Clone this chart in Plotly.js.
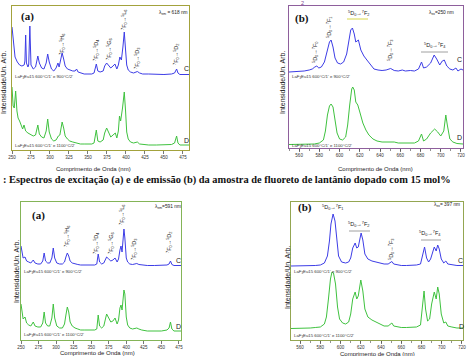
<!DOCTYPE html>
<html><head><meta charset="utf-8">
<script src="https://cdn.plot.ly/plotly-3.0.1.min.js"></script>
<style>html,body{margin:0;padding:0;background:#fff;}#g{width:470px;height:356px;}</style>
</head><body><div id="g"></div>
<script>
// ---- Panel TL: excitation, lambda_em = 618 nm ----
const exA_C_wl = [250,252,254,257,260,263,266,267,268,269,271,272,273.5,275,278,281,284,286,289,292,295,297,299,302,305,308,310.5,312,314,316,318,320,323,326,330,333,335,337,340,345,350,355,358,361,363,366,370,372,374.6,377,380,383,385.5,388,390,392,394,396,397.8,399.5,401,403,406,410,413,415,418,422,430,440,450,460,464,466.7,468.5,471,483];
const exA_C_val = [48,30,18,13,10,9,10,14,40,12,8,10,49,10,6,8,19,12,7,6,12,21,13,6,4,7,12,8,14,22,16,9,6,5,4,4,6,3,2,1,1,1,2,11,4,3,4,9,12,10,7,9,11,6,10,18,15,28,43,25,10,5,3,2,3,3.5,2,1,1,0.5,0.5,1,2,6,2,0.5,0.5];
const exA_D_wl = [250,251.5,253,254.8,256.5,258,260,262,264,265.8,268,271,274,278,281,284,286,289,292,295,297,299,302,305,308,311,313,316,318,320,323,326,330,335,340,345,350,355,358,361,363,366,370,372,374.6,377,380,383,386,388,390,391.5,393,395.5,397.8,399.5,401,403,406,410,413,415,418,422,430,440,460,464,466.7,468.5,471,483];
const exA_D_val = [59,40,38,55,35,28,25,20,17,21,15,13,12,10,11,21,12,9,8,15,27,14,7,5,6,10,11,24,18,10,7,5,4,3,2,2,2,2,3,16,5,4,6,13,18,14,9,11,13,8,15,30,25,38,54,35,14,7,4,3,4,4,2,1.5,1,1,1.5,3,10,3,1,1];

// ---- Panel TR: emission, lambda_ex = 250 nm ----
const emA_C_wl = [550,560,565,570,573,575.5,577.5,579.5,582,585,588,590,591.6,593.5,595.5,598,601,604,607,609,611,612.7,614.5,616,618.6,621,624,627,630,634,638,642,646,650.5,654,658,662,665,670,674,678,681,683,686,690,693.5,696,699,701.5,703.5,706,709,712,715,717,720,722];
const emA_C_val = [0,0.5,1,2,3,5,6,4,5,10,22,30,32,25,14,9,8,10,18,32,42,44,38,30,32,22,16,12,8,3,2,1.5,2,3.5,1.5,1,2,1,1.5,1,3,10,4,5,9,17,13,7,11,12,6,3,2,4,1,3,2];
const emA_D_wl = [550,560,570,575,580,584,586,588,590,591.6,593.5,595.5,597.5,600,603,606,608,610,612,613,614.5,616,618,620,623,626,629,633,637,642,646,650,654,658,662,666,670,674,678,681,683,686,690,694,697,700,703,705,706.5,709,712,716,722];
const emA_D_val = [0.5,0.5,0.5,1,2,5,14,30,39,41,38,25,12,6,5,8,20,40,56,58,55,43,40,33,22,15,10,6,4,3,3,3.5,3,2,2,2,2,2,4,11,4,6,12,16,13,9,14,30,20,6,3,1.5,1];

// ---- Panel BL: excitation, lambda_em = 591 nm ----
const exB_C_wl = [250,251.5,253,255.7,258,261,264,267.5,270,274,278,281,283,285,288,291,294,296,298,301,305,309,312,314,316,318,320,323,327,331,335,340,345,350,355,358,360,362,365,368,370,372,375,378,381,384,387,389,391,392.5,394,395.5,396.7,398,400,402,405,409,413,415,418,422,430,440,450,458,461,463,465,468,478];
const exB_C_val = [20,12,8,9,5,4,3,6,3,2,2,5,13,5,3,3,8,18,8,3,2,2,4,9,13,10,5,3,2,1.5,1,1,1,1,1,2,12,4,2,3,6,9,7,5,6,8,4,7,16,20,14,28,37,28,8,4,2,1.5,2,2.5,1.5,1,0.5,0.5,0.5,1,2,5,1.5,0.5,0.5];
const exB_D_wl = exB_C_wl;
const exB_D_val = [28,18,13,15,9,7,6,10,6,5,5,9,20,9,6,6,14,28,14,6,4,4,8,17,25,20,10,6,4,3,2,2,2,2,2,3,17,6,4,6,12,18,14,10,11,14,8,12,24,27,22,34,42,38,15,7,4,3,3.5,4,3,2,1,1,1,2,4,10,3,1,1];

// ---- Panel BR: emission, lambda_ex = 397 nm ----
const emB_C_wl = [551,560,570,575,580,584,587,589,590.5,592.6,594.5,596,598,601,605,608,610,612,614.4,616,617.5,620.3,622,624,627,631,635,639,643,647,649,650.7,652.5,656,660,665,670,675,679,681,683,685,687,689,691,692.6,694.5,696,697.5,699.5,702,704,706,710,715,721];
const emB_C_val = [0,0,0,0.5,1,3,10,25,42,52,45,28,10,4,3,4,8,18,23,18,19,33,26,12,7,5,4,3,2,2,3,4.5,2,1,0.5,0.5,0.5,1,2,10,19,8,4,7,15,19,15,21,17,7,3,5,2,1,0.5,0.5];
const emB_D_wl = [551,560,570,575,580,584,586,588,590,591.5,593,595,597,599,602,605,608,610,612,614.4,616,617.5,620,622,624,627,631,635,639,643,647,649,650.7,652.5,656,660,665,670,675,679,681,682.5,684,686,688,690,692.6,694.5,696,697.5,699.5,702,704,706,710,715,721];
const emB_D_val = [0.5,0.5,1,1.5,2,5,12,30,50,57,56,45,22,10,6,5,7,15,30,37,30,33,49,38,20,12,9,7,5,3,3,5,6,3,2,1.5,1.5,1.5,2,4,20,38,20,8,10,25,37,30,42,35,15,6,7,3,2,1,1];

const exTicks = [250,275,300,325,350,375,400,425,450,475];
const emTicks = [560,580,600,620,640,660,680,700,720];
const sampleC = "LaF<sub>3</sub>Eu15 600°C/1' e 900°C/2'";
const sampleD = "LaF<sub>3</sub>Eu15 600°C/1' e 1100°C/2'";
const xTitle = "Comprimento de Onda (nm)";
const yTitle = "Intensidade/Un. Arb.";
const caption = ": Espectros de excitação (a) e de emissão (b) da amostra de fluoreto de lantânio dopado com 15 mol%";

// ---- layout geometry (pixels) ----
const W = 470, H = 356;
const panels = [
  {x0:12, x1:189, y0:6, y1:150, xr:[250,483], ticks:exTicks, frame:'#a3a23c', offC:75, offD:4, C:[exA_C_wl,exA_C_val], D:[exA_D_wl,exA_D_val]},
  {x0:289, x1:463, y0:6, y1:148, xr:[550,722], ticks:emTicks, frame:'#8e5f9c', offC:76, offD:3, C:[emA_C_wl,emA_C_val], D:[emA_D_wl,emA_D_val]},
  {x0:21, x1:181, y0:202, y1:340, xr:[250,478], ticks:exTicks, frame:'#84b457', offC:74, offD:8, C:[exB_C_wl,exB_C_val], D:[exB_D_wl,exB_D_val]},
  {x0:291, x1:463, y0:202, y1:340, xr:[551,721], ticks:emTicks, frame:'#94a651', offC:74, offD:11, C:[emB_C_wl,emB_C_val], D:[emB_D_wl,emB_D_val]}
];
const px = v => v / W, py = v => 1 - v / H;

const data = [], layout = {
  width: W, height: H, margin: {l:0, r:0, t:0, b:0},
  paper_bgcolor: '#fff', plot_bgcolor: '#fff', showlegend: false,
  font: {family: 'Liberation Sans, Arial, sans-serif', color: '#222'},
  annotations: []
};
panels.forEach((p, i) => {
  const n = i === 0 ? '' : String(i + 1);
  const xa = 'x' + n, ya = 'y' + n;
  data.push({x: p.D[0], y: p.D[1].map(v => v + p.offD), xaxis: xa, yaxis: ya, mode: 'lines', line: {color: '#3fc23f', width: 1}, hoverinfo: 'skip'});
  data.push({x: p.C[0], y: p.C[1].map(v => v + p.offC), xaxis: xa, yaxis: ya, mode: 'lines', line: {color: '#3d3de6', width: 1}, hoverinfo: 'skip'});
  layout['xaxis' + n] = {
    domain: [px(p.x0), px(p.x1)], range: p.xr, anchor: ya,
    tickvals: p.ticks, ticks: 'outside', ticklen: 2.5, tickwidth: 0.8, tickcolor: '#555',
    tickfont: {size: 4.5, color: '#333'}, showline: true, mirror: true, linecolor: p.frame, linewidth: 1.2,
    showgrid: false, zeroline: false, fixedrange: true,
    minor: i % 2 === 1 ? {ticks: 'outside', ticklen: 1.5, tickcolor: '#777', dtick: 10} : undefined
  };
  layout['yaxis' + n] = {
    domain: [py(p.y1), py(p.y0)], range: [0, p.y1 - p.y0], anchor: xa,
    showticklabels: false, ticks: '', showline: true, mirror: true, linecolor: p.frame, linewidth: 1.2,
    showgrid: false, zeroline: false, fixedrange: true
  };
});

function ann(x, y, text, o) {
  layout.annotations.push(Object.assign({xref: 'paper', yref: 'paper', x: px(x), y: py(y), text: text, showarrow: false,
    xanchor: 'center', yanchor: 'middle', font: {size: 6, color: '#222'}}, o || {}));
}
const serifB = {family: 'Liberation Serif, Times New Roman, serif', size: 11, color: '#111'};
// panel labels
ann(27, 17, '<b>(a)</b>', {font: serifB});
ann(302, 19, '<b>(b)</b>', {font: serifB});
ann(38, 215, '<b>(a)</b>', {font: serifB});
ann(305, 207, '<b>(b)</b>', {font: serifB});
// lambda labels
ann(173, 13, 'λ<sub>em</sub> = 618 nm', {font: {size: 4.8}});
ann(441, 13, 'λ<sub>ex</sub>=250 nm', {font: {size: 4.8}});
ann(168, 207, 'λ<sub>em</sub>=591 nm', {font: {size: 4.8}});
ann(447, 205, 'λ<sub>ex</sub>= 397 nm', {font: {size: 4.8}});
// excitation transitions (rotated)
const exLab = ['<sup>7</sup>F<sub>0</sub>→<sup>5</sup>H<sub>6</sub>', '<sup>7</sup>F<sub>0</sub>→<sup>5</sup>D<sub>4</sub>', '<sup>7</sup>F<sub>0</sub>→<sup>5</sup>G<sub>6</sub>', '<sup>7</sup>F<sub>0</sub>→<sup>5</sup>L<sub>6</sub>', '<sup>7</sup>F<sub>0</sub>→<sup>5</sup>D<sub>3</sub>', '<sup>7</sup>F<sub>0</sub>→<sup>5</sup>D<sub>2</sub>'];
const rot = {textangle: -90, font: {size: 5.5}};
[[62,45],[96,50],[110,49],[124,20],[137,59],[177,55]].forEach((q, k) => ann(q[0], q[1], exLab[k], rot));
[[67,237],[97,243],[112,243],[122,215],[134,250],[170,243]].forEach((q, k) => ann(q[0], q[1], exLab[k], rot));
// emission transitions
const em = j => '<sup>5</sup>D<sub>0</sub>→<sup>7</sup>F<sub>' + j + '</sub>';
ann(316, 53, em(0), rot);
ann(330, 28, em(1), rot);
ann(358, 14, em(2), {font: {size: 5.5}});
ann(391, 51, em(3), rot);
ann(435, 45, em(4), {font: {size: 5.5}});
ann(332, 207, em(1), {font: {size: 5.5}});
ann(358, 224, em(2), {font: {size: 5.5}});
ann(391, 250, em(3), rot);
ann(430, 233, em(4), {font: {size: 5.5}});
layout.shapes = [
  {type: 'line', xref: 'paper', yref: 'paper', x0: px(347), x1: px(368), y0: py(19), y1: py(19), line: {color: '#d8d84a', width: 1}},
  {type: 'line', xref: 'paper', yref: 'paper', x0: px(421), x1: px(448), y0: py(52), y1: py(52), line: {color: '#888', width: 0.8}},
  {type: 'line', xref: 'paper', yref: 'paper', x0: px(349), x1: px(370), y0: py(231), y1: py(231), line: {color: '#888', width: 0.8}},
  {type: 'line', xref: 'paper', yref: 'paper', x0: px(421), x1: px(441), y0: py(240), y1: py(240), line: {color: '#888', width: 0.8}}
];
// C / D labels
[[186,69,'C'],[186,140,'D'],[459,59,'C'],[459,137,'D'],[178,260,'C'],[178,326,'D'],[460,260,'C'],[461,326,'D']].forEach(q => ann(q[0], q[1], q[2], {font: {size: 7, color: '#222'}}));
// sample labels
[[13,77,sampleC],[13,146,sampleD],[290,77,sampleC],[290,146,sampleD],[22,272,sampleC],[22,335,sampleD],[292,272,sampleC],[292,336,sampleD]].forEach(q => ann(q[0], q[1], q[2], {xanchor: 'left', font: {size: 4.3, color: '#333'}}));
// axis titles
[[93,169],[375,169],[97,353],[377,354]].forEach(q => ann(q[0], q[1], xTitle, {font: {size: 6, color: '#222'}}));
[[4,83],[283,83],[16,272],[287,278]].forEach(q => ann(q[0], q[1], yTitle, {textangle: -90, font: {size: 7, color: '#222'}}));
// caption
ann(1, 180, '<b>' + caption + '</b>', {xanchor: 'left', font: {family: 'Liberation Serif, Times New Roman, serif', size: 10.4, color: '#111'}});
ann(302, 3, '2', {font: {size: 5.5, color: '#7a3f8f'}});

Plotly.newPlot('g', data, layout, {staticPlot: true, displayModeBar: false});
</script>
</body></html>
